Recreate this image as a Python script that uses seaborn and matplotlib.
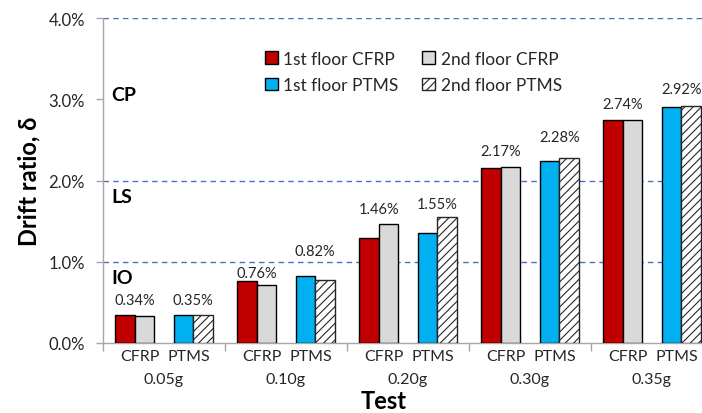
import numpy as np
import pandas as pd
import matplotlib
matplotlib.use("Agg")
import matplotlib.pyplot as plt
from matplotlib.patches import Patch
from matplotlib.ticker import PercentFormatter
import matplotlib.transforms as mtransforms
import seaborn as sns

# data
tests = ["0.05g", "0.10g", "0.20g", "0.30g", "0.35g"]
cfrp_1st = [0.34, 0.76, 1.29, 2.16, 2.74]
cfrp_2nd = [0.33, 0.72, 1.46, 2.17, 2.74]
ptms_1st = [0.35, 0.82, 1.36, 2.24, 2.90]
ptms_2nd = [0.35, 0.77, 1.55, 2.28, 2.92]
limits = {"IO": 1.0, "LS": 2.0, "CP": 3.0}

series = ["1st floor CFRP", "2nd floor CFRP", "1st floor PTMS", "2nd floor PTMS"]
colors = {"1st floor CFRP": "#C00000", "2nd floor CFRP": "#D9D9D9",
          "1st floor PTMS": "#00B0F0", "2nd floor PTMS": "white", " ": "white"}

rows = []
for s, vals in zip(series, [cfrp_1st, cfrp_2nd, ptms_1st, ptms_2nd]):
    for t, v in zip(tests, vals):
        rows.append({"test": t, "series": s, "drift": v})
df = pd.DataFrame(rows)

sns.set_theme(style="white")
plt.rcParams['font.family'] = ['Lato', 'DejaVu Sans']
plt.rcParams['hatch.linewidth'] = 0.8
txt = "#262626"

fig = plt.figure(figsize=(7.02, 4.14), dpi=100)
ax = fig.add_axes([103/702, 70/414, 610/702, 325/414])

# blank middle hue level gives the gap between the CFRP and PTMS pairs
sns.barplot(data=df, x="test", y="drift", hue="series",
            hue_order=["1st floor CFRP", "2nd floor CFRP", " ", "1st floor PTMS", "2nd floor PTMS"],
            order=tests, palette=colors, saturation=1, width=0.8, edgecolor="black",
            linewidth=1.0, legend=False, ax=ax, zorder=3)
for p in ax.patches:
    h = p.get_height()
    if h == 0 or np.isnan(h):
        p.set_visible(False)
    elif p.get_facecolor()[:3] == (1.0, 1.0, 1.0):
        p.set_hatch("////")
        p.set_edgecolor("#262626")

ax.set_xlim(-0.5, 4.5)
ax.set_ylim(0, 4.0)
for y in [1.0, 2.0, 4.0]:
    ax.axhline(y, color="#4472C4", lw=1.0, dashes=(4, 3), zorder=1)

# pair labels (max of each pair), centred over each pair of bars
cfrp_top = np.maximum(cfrp_1st, cfrp_2nd)
ptms_top = np.maximum(ptms_1st, ptms_2nd)
cfrp_off = [15, 8, 15, 16, 16]
ptms_off = [15, 25, 13, 21, 17]
for i in range(len(tests)):
    ax.annotate(f"{cfrp_top[i]:.2f}%", (i - 0.24, cfrp_top[i]), xytext=(0, cfrp_off[i]*0.72),
                textcoords="offset points", ha="center", va="center", fontsize=10.5, color=txt)
    ax.annotate(f"{ptms_top[i]:.2f}%", (i + 0.24, ptms_top[i]), xytext=(0, ptms_off[i]*0.72),
                textcoords="offset points", ha="center", va="center", fontsize=10.5, color=txt)

# performance levels
for name, y in limits.items():
    dy = 0.06 if name == "CP" else -0.2
    ax.text(-0.43, y + dy, name, fontsize=14, fontweight="bold", color="black",
            ha="left", va="center")

# y axis
ax.yaxis.set_major_formatter(PercentFormatter(decimals=1))
ax.set_yticks([0, 1, 2, 3, 4])
ax.tick_params(axis="y", length=5, width=1, color="#A6A6A6", labelsize=12,
               labelcolor=txt, pad=8, left=True)
ax.set_ylabel("Drift ratio, δ", fontsize=17, fontweight="bold", color="black", labelpad=6)

# two-level x axis
sub_pos = [i + d for i in range(len(tests)) for d in (-0.2, 0.2)]
ax.set_xticks(sub_pos)
ax.set_xticklabels(["CFRP", "PTMS"] * len(tests))
ax.set_xticks(np.arange(-0.5, 5.0, 1.0), minor=True)
ax.tick_params(axis="x", which="major", length=0, labelsize=11.5, labelcolor=txt, pad=4)
ax.tick_params(axis="x", which="minor", length=6, width=1, color="#A6A6A6", bottom=True)
trans = mtransforms.blended_transform_factory(ax.transData, ax.transAxes)
for i, t in enumerate(tests):
    ax.text(i, -36/325, t, transform=trans, ha="center", va="center", fontsize=11.5, color=txt)
ax.set_xlabel("")
fig.text(384/702, 1/414, "Test", ha="center", va="bottom", fontsize=17,
         fontweight="bold", color="black")

for side in ["top", "right"]:
    ax.spines[side].set_visible(False)
for side in ["left", "bottom"]:
    ax.spines[side].set_color("#A6A6A6")
    ax.spines[side].set_linewidth(1)

handles = [Patch(facecolor=colors["1st floor CFRP"], edgecolor="black", label="1st floor CFRP"),
           Patch(facecolor=colors["1st floor PTMS"], edgecolor="black", label="1st floor PTMS"),
           Patch(facecolor=colors["2nd floor CFRP"], edgecolor="black", label="2nd floor CFRP"),
           Patch(facecolor="white", edgecolor="#262626", hatch="////", label="2nd floor PTMS")]
fig.legend(handles=handles, ncol=2, frameon=False, fontsize=12.5, loc="upper left",
           bbox_to_anchor=(249/702, 1 - 36/414), handlelength=0.75, handleheight=0.75,
           handletextpad=0.3, columnspacing=1.4, labelspacing=0.6, labelcolor=txt)

fig.savefig("out.png", dpi=100)
